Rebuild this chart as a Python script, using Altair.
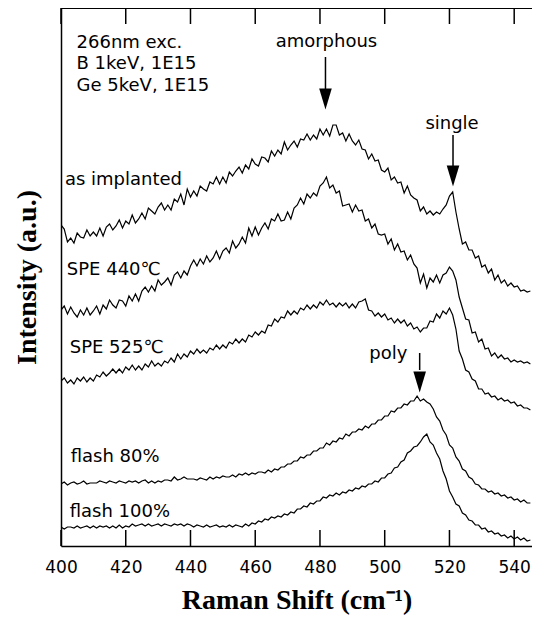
import altair as alt
import pandas as pd

wavenumber = list(range(400, 546))

as_implanted = [
    321, 317, 304, 308, 303, 313, 309, 308, 316, 310,
    314, 310, 318, 310, 319, 322, 316, 320, 326, 318,
    325, 322, 331, 323, 327, 333, 327, 338, 335, 332,
    339, 343, 336, 341, 336, 347, 344, 352, 341, 357,
    349, 355, 350, 360, 357, 355, 364, 362, 369, 362,
    369, 363, 374, 370, 375, 379, 373, 381, 377, 387,
    382, 380, 389, 388, 384, 395, 390, 396, 392, 404,
    396, 401, 405, 399, 407, 406, 412, 406, 411, 407,
    417, 411, 417, 410, 421, 421, 411, 413, 405, 412,
    405, 401, 406, 397, 396, 387, 392, 385, 386, 376,
    374, 378, 366, 369, 363, 364, 353, 360, 351, 348,
    346, 335, 339, 332, 335, 331, 334, 332, 337, 341,
    350, 354, 334, 317, 302, 304, 296, 296, 288, 290,
    279, 281, 273, 277, 266, 271, 263, 266, 260, 263,
    259, 260, 255, 256, 254, 255,
]
spe_440 = [
    236, 240, 232, 239, 233, 229, 236, 231, 238, 231,
    235, 240, 232, 241, 237, 246, 241, 238, 246, 245,
    240, 250, 245, 252, 245, 255, 259, 254, 260, 255,
    266, 261, 264, 268, 261, 271, 274, 268, 275, 271,
    280, 286, 280, 287, 282, 290, 284, 288, 295, 287,
    295, 298, 293, 305, 298, 302, 309, 303, 318, 310,
    319, 311, 318, 323, 317, 327, 325, 332, 325, 326,
    334, 327, 338, 341, 348, 342, 352, 348, 353, 350,
    360, 363, 369, 358, 361, 353, 355, 340, 341, 342,
    334, 341, 335, 336, 325, 327, 318, 322, 312, 311,
    312, 302, 307, 296, 302, 294, 295, 286, 291, 282,
    278, 263, 272, 258, 268, 264, 271, 263, 271, 273,
    279, 275, 266, 249, 238, 227, 226, 213, 214, 204,
    207, 197, 198, 190, 193, 188, 191, 187, 188, 184,
    186, 184, 185, 183, 184, 182,
]
spe_525 = [
    165, 168, 163, 166, 162, 168, 165, 169, 164, 168,
    165, 171, 169, 174, 170, 173, 177, 173, 177, 173,
    179, 176, 181, 176, 180, 176, 182, 179, 185, 180,
    183, 180, 185, 183, 188, 184, 192, 187, 192, 189,
    195, 192, 197, 193, 196, 193, 198, 196, 201, 197,
    201, 198, 204, 202, 207, 203, 207, 204, 211, 209,
    214, 211, 215, 213, 221, 220, 227, 224, 229, 228,
    235, 231, 235, 232, 238, 236, 241, 237, 241, 238,
    244, 241, 246, 241, 243, 239, 243, 240, 243, 238,
    242, 238, 244, 245, 247, 236, 235, 230, 233, 229,
    232, 226, 228, 223, 227, 223, 226, 220, 223, 217,
    219, 214, 218, 218, 225, 224, 232, 228, 235, 232,
    238, 231, 217, 195, 187, 176, 174, 167, 165, 157,
    157, 152, 153, 149, 150, 146, 148, 145, 146, 143,
    144, 140, 141, 138, 138, 136,
]
flash_80 = [
    62, 64, 61, 63, 64, 62, 63, 65, 62, 63,
    63, 63, 65, 64, 63, 65, 64, 63, 65, 64,
    63, 65, 64, 65, 63, 65, 66, 63, 65, 63,
    65, 64, 66, 66, 65, 69, 66, 67, 69, 67,
    67, 67, 66, 68, 67, 66, 69, 67, 69, 68,
    70, 69, 69, 71, 69, 72, 71, 73, 71, 73,
    72, 74, 74, 73, 76, 74, 77, 76, 79, 79,
    82, 82, 85, 85, 89, 88, 91, 91, 95, 95,
    98, 98, 103, 101, 105, 104, 108, 107, 112, 110,
    114, 114, 117, 116, 120, 118, 122, 122, 126, 126,
    130, 130, 135, 134, 138, 138, 142, 141, 145, 145,
    150, 145, 147, 144, 142, 137, 129, 125, 116, 111,
    101, 98, 89, 85, 77, 75, 69, 67, 62, 61,
    57, 57, 54, 55, 52, 53, 50, 51, 48, 49,
    46, 47, 44, 46, 43, 43,
]
flash_100 = [
    19, 17, 19, 19, 18, 20, 18, 19, 20, 18,
    20, 18, 20, 19, 20, 18, 20, 18, 21, 18,
    20, 19, 22, 20, 21, 22, 20, 22, 20, 21,
    22, 20, 22, 21, 20, 22, 21, 22, 20, 22,
    21, 19, 21, 20, 19, 21, 19, 20, 21, 19,
    20, 19, 21, 19, 21, 20, 19, 22, 20, 23,
    22, 25, 24, 27, 26, 29, 28, 30, 29, 32,
    31, 34, 33, 37, 37, 40, 39, 43, 42, 45,
    45, 49, 48, 51, 50, 53, 51, 54, 53, 56,
    55, 58, 57, 60, 59, 62, 62, 65, 64, 68,
    68, 72, 73, 78, 79, 84, 86, 93, 95, 99,
    100, 104, 109, 112, 104, 101, 93, 87, 75, 67,
    55, 49, 42, 40, 33, 31, 26, 25, 21, 21,
    17, 18, 14, 15, 12, 13, 10, 11, 8, 10,
    7, 9, 6, 8, 5, 6,
]

series_names = ["as implanted", "SPE 440\u2103", "SPE 525\u2103", "flash 80%", "flash 100%"]
series_values = [as_implanted, spe_440, spe_525, flash_80, flash_100]

# curve labels (left aligned)
label_x = [401.2, 401.8, 402.7, 403.0, 402.7]
label_y = [361, 271, 193, 84, 29]

# sample info text
info_lines = ["266nm exc.", "B 1keV, 1E15", "Ge 5keV, 1E15"]
info_x = [404.8, 404.8, 404.8]
info_y = [498, 477, 455]

# peak annotations
peak_names = ["amorphous", "single", "poly"]
peak_text_x = [482.0, 520.8, 501.1]
peak_text_y = [499, 417, 187]
arrow_x = [481.7, 521.1, 510.8]
arrow_top = [489, 411, 193]
arrow_bottom = [456, 379, 176]
arrow_head = [447, 370, 164]

tick_values = [400, 420, 440, 460, 480, 500, 520, 540]

rows = []
for name, vals in zip(series_names, series_values):
    for w, v in zip(wavenumber, vals):
        rows.append({"series": name, "x": w, "y": v})
df = pd.DataFrame(rows)

labels_df = pd.DataFrame({"x": label_x, "y": label_y, "text": series_names})
info_df = pd.DataFrame({"x": info_x, "y": info_y, "text": info_lines})
peak_df = pd.DataFrame({"x": peak_text_x, "y": peak_text_y, "text": peak_names})
arrow_df = pd.DataFrame({"x": arrow_x, "y": arrow_top, "y2": arrow_bottom, "yh": arrow_head})
tick_df = pd.DataFrame({"x": tick_values})

W, H = 471, 538
xscale = alt.Scale(domain=[400, 545.5], nice=False, zero=False)
yscale = alt.Scale(domain=[0, 538], nice=False, zero=False)

lines = alt.Chart(df).mark_line(color="black", strokeWidth=1.2, clip=True).encode(
    x=alt.X("x:Q", scale=xscale, axis=alt.Axis(
        values=tick_values, title="Raman Shift (cm\u207b\u00b9)", grid=False,
        ticks=False, domain=True, domainColor="black", domainWidth=1.5,
        labelFont="DejaVu Sans", labelFontSize=17, labelColor="black",
        labelPadding=13, labelFlush=False,
        titleFont="Liberation Serif", titleFontWeight="bold", titleFontSize=28,
        titleColor="black", titleBaseline="alphabetic", titleY=62)),
    y=alt.Y("y:Q", scale=yscale, axis=alt.Axis(
        title="Intensity (a.u.)", grid=False, ticks=False, labels=False,
        domain=True, domainColor="black", domainWidth=1.5,
        titleFont="Liberation Serif", titleFontWeight="bold", titleFontSize=28,
        titleColor="black", titleBaseline="middle", titleX=-34, titleY=269,
        titleAngle=270)),
    detail="series:N",
)

bottom_ticks = alt.Chart(tick_df).mark_rule(color="black", strokeWidth=1.5).encode(
    x=alt.X("x:Q", scale=xscale), y=alt.value(H), y2=alt.value(H - 16))
top_ticks = alt.Chart(tick_df).mark_rule(color="black", strokeWidth=1.5).encode(
    x=alt.X("x:Q", scale=xscale), y=alt.value(0), y2=alt.value(16))
top_border = alt.Chart(tick_df).mark_rule(color="black", strokeWidth=1.5).encode(
    x=alt.value(0), x2=alt.value(W), y=alt.value(0))

labels = alt.Chart(labels_df).mark_text(
    align="left", baseline="alphabetic", font="DejaVu Sans", fontSize=18, color="black"
).encode(x=alt.X("x:Q", scale=xscale), y=alt.Y("y:Q", scale=yscale), text="text:N")
info = alt.Chart(info_df).mark_text(
    align="left", baseline="alphabetic", font="DejaVu Sans", fontSize=18, color="black"
).encode(x=alt.X("x:Q", scale=xscale), y=alt.Y("y:Q", scale=yscale), text="text:N")
peaks = alt.Chart(peak_df).mark_text(
    align="center", baseline="alphabetic", font="DejaVu Sans", fontSize=18, color="black"
).encode(x=alt.X("x:Q", scale=xscale), y=alt.Y("y:Q", scale=yscale), text="text:N")

shafts = alt.Chart(arrow_df).mark_rule(color="black", strokeWidth=1.5).encode(
    x=alt.X("x:Q", scale=xscale), y=alt.Y("y:Q", scale=yscale), y2="y2:Q")
heads = alt.Chart(arrow_df).mark_point(
    shape="M-0.6,-1L0.6,-1L0,1Z", filled=True, color="black", opacity=1, size=441
).encode(x=alt.X("x:Q", scale=xscale), y=alt.Y("yh:Q", scale=yscale))

chart = alt.layer(
    lines, bottom_ticks, top_ticks, top_border, labels, info, peaks, shafts, heads
).properties(
    width=W, height=H,
    padding={"left": 53, "top": 0, "right": 0, "bottom": 71},
    autosize=alt.AutoSizeParams(type="none"),
).configure_view(strokeWidth=0)

chart.save("out.html", embed_options={"renderer": "svg", "actions": False})
